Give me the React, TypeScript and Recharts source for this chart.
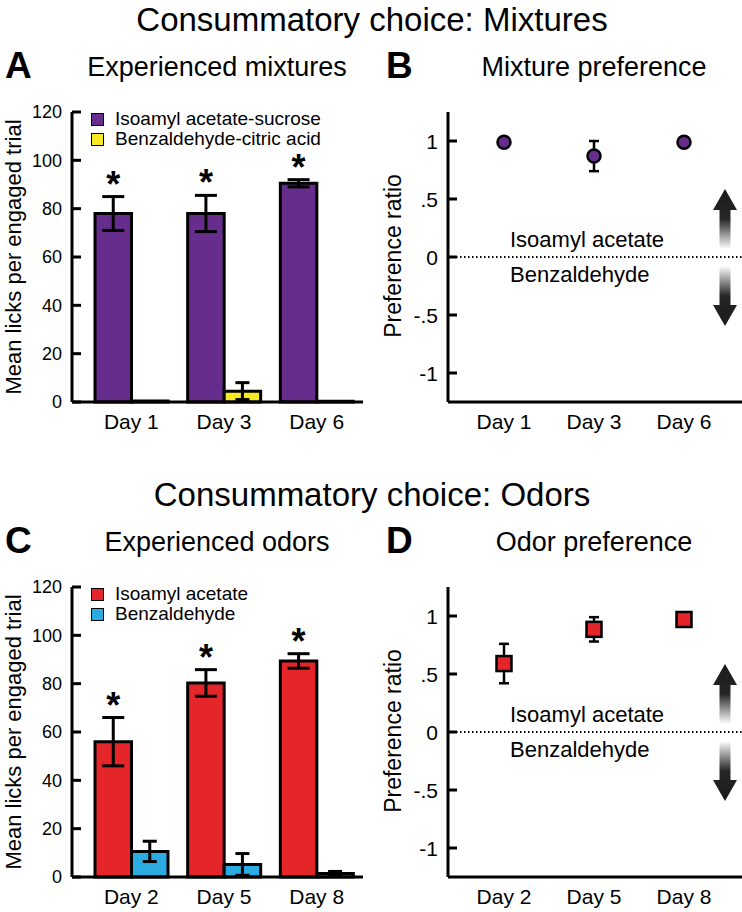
import React from "react";
import {
  Bar,
  BarChart,
  ErrorBar,
  LabelList,
  Legend,
  Line,
  LineChart,
  ReferenceLine,
  XAxis,
  YAxis,
} from "recharts";

const FONT = "'Liberation Sans', Arial, Helvetica, sans-serif";
const PURPLE = "#662d8c";
const YELLOW = "#f8e924";
const RED = "#e4262b";
const BLUE = "#2aace2";

// panel A / B: mixtures
const mixDays = ["Day 1", "Day 3", "Day 6"];
const mixNames = ["Isoamyl acetate-sucrose", "Benzaldehyde-citric acid"];
const mixSucrose = [78, 78, 90.5];
const mixSucroseErr = [7, 7.5, 1.5];
const mixCitric = [0.4, 4.5, 0.3];
const mixCitricErr = [0, 3.5, 0];
const mixPref = [0.99, 0.87, 0.99];
const mixPrefErr = [0.01, 0.13, 0.01];
const mixSig = ["*", "*", "*"];

// panel C / D: odors
const odorDays = ["Day 2", "Day 5", "Day 8"];
const odorNames = ["Isoamyl acetate", "Benzaldehyde"];
const odorIaa = [56, 80.3, 89.4];
const odorIaaErr = [10, 5.5, 3];
const odorBzd = [10.6, 5.2, 1.5];
const odorBzdErr = [4.2, 4.5, 0.8];
const odorPref = [0.59, 0.885, 0.97];
const odorPrefErr = [0.17, 0.105, 0.02];
const odorSig = ["*", "*", "*"];

const lickTicks = [0, 20, 40, 60, 80, 100, 120];
const prefTicks = [-1, -0.5, 0, 0.5, 1];
const prefTickLabels = ["-1", "-.5", "0", ".5", "1"];

const PANEL_W = 371;
const PANEL_H = 450;
const PLOT_TOP = 112;
const PLOT_H = 290;

function YTick(props: any) {
  const { x, y, payload, labels, ticks, size } = props;
  const label = labels ? labels[ticks.indexOf(payload.value)] : String(payload.value);
  return (
    <g>
      <line x1={x + 10} x2={x + 19} y1={y} y2={y} stroke="#000" strokeWidth={3} />
      <text x={x} y={y} dy="0.36em" textAnchor="end" fontSize={size} fontFamily={FONT} fill="#000">
        {label}
      </text>
    </g>
  );
}

function XTick(props: any) {
  const { x, y, payload } = props;
  return (
    <text x={x} y={y + 27} textAnchor="middle" fontSize={21} fontFamily={FONT} fill="#000">
      {payload.value}
    </text>
  );
}

function SwatchLegend({ payload, names, colors }: { payload?: any[]; names: string[]; colors: string[] }) {
  const items = [...(payload ?? [])].sort((p, q) => names.indexOf(p.value) - names.indexOf(q.value));
  return (
    <div style={{ fontFamily: FONT, fontSize: 19, color: "#000" }}>
      {items.map((p) => (
        <div key={p.value} style={{ display: "flex", alignItems: "center", height: 20 }}>
          <span
            style={{
              display: "inline-block",
              width: 11,
              height: 11,
              background: colors[names.indexOf(p.value)],
              border: "1.5px solid #000",
              marginRight: 11,
            }}
          />
          <span>{p.value}</span>
        </div>
      ))}
    </div>
  );
}

const starLabel = (errs: number[], sig: string[]) => (props: any) => {
  const vb = props.viewBox ?? props;
  const { x, y, width, height } = vb;
  const i = props.index ?? 0;
  const perUnit = height / props.value;
  const top = y - errs[i] * perUnit;
  return (
    <text
      x={x + width / 2}
      y={top}
      textAnchor="middle"
      fontSize={36}
      fontWeight="bold"
      fontFamily={FONT}
      fill="#000"
    >
      {sig[i]}
    </text>
  );
};

function LickPanel({
  days,
  a,
  aErr,
  b,
  bErr,
  sig,
  names,
  colors,
}: {
  days: string[];
  a: number[];
  aErr: number[];
  b: number[];
  bErr: number[];
  sig: string[];
  names: string[];
  colors: string[];
}) {
  const rows = days.map((d, i) => ({ day: d, a: a[i], aErr: aErr[i], b: b[i], bErr: bErr[i] }));
  return (
    <BarChart
      width={PANEL_W}
      height={PANEL_H}
      data={rows}
      margin={{ top: PLOT_TOP, right: 8, bottom: 0, left: 0 }}
      barGap={0}
      barSize={36.5}
    >
      <XAxis
        dataKey="day"
        height={48}
        padding={{ left: 13, right: 0 }}
        axisLine={{ stroke: "#000", strokeWidth: 3 }}
        tickLine={false}
        tickSize={0}
        tickMargin={0}
        interval={0}
        tick={(p: any) => <XTick {...p} />}
      />
      <YAxis
        type="number"
        width={72}
        domain={[0, 120]}
        ticks={lickTicks}
        axisLine={{ stroke: "#000", strokeWidth: 3 }}
        tickLine={false}
        tickSize={0}
        tickMargin={10}
        tick={(p: any) => <YTick {...p} size={18} />}
      />
      <Legend
        layout="vertical"
        align="center"
        verticalAlign="middle"
        wrapperStyle={{ left: 91, top: 109, width: 260 }}
        content={(p: any) => <SwatchLegend payload={p.payload} names={names} colors={colors} />}
      />
      <Bar dataKey="a" name={names[0]} fill={colors[0]} stroke="#000" strokeWidth={3} isAnimationActive={false}>
        <ErrorBar dataKey="aErr" width={11} stroke="#000" strokeWidth={3} />
        <LabelList dataKey="a" content={starLabel(aErr, sig)} />
      </Bar>
      <Bar dataKey="b" name={names[1]} fill={colors[1]} stroke="#000" strokeWidth={3} isAnimationActive={false}>
        <ErrorBar dataKey="bErr" width={7} stroke="#000" strokeWidth={3} />
      </Bar>
    </BarChart>
  );
}

function ZeroLabels(props: any) {
  const { x, y } = props.viewBox;
  return (
    <g fontFamily={FONT} fontSize={22} fill="#000">
      <text x={x + 62} y={y - 10}>Isoamyl acetate</text>
      <text x={x + 62} y={y + 25}>Benzaldehyde</text>
    </g>
  );
}

function PrefPanel({
  days,
  pref,
  err,
  color,
  square,
}: {
  days: string[];
  pref: number[];
  err: number[];
  color: string;
  square?: boolean;
}) {
  const rows = days.map((d, i) => ({ day: d, v: pref[i], err: err[i] }));
  const dot = square
    ? (p: any) => (
        <rect
          key={p.index}
          x={p.cx - 7.5}
          y={p.cy - 7.5}
          width={15}
          height={15}
          fill={color}
          stroke="#000"
          strokeWidth={2.5}
        />
      )
    : { r: 6.5, fill: color, stroke: "#000", strokeWidth: 2.5 };
  return (
    <LineChart width={PANEL_W} height={PANEL_H} data={rows} margin={{ top: PLOT_TOP, right: 0, bottom: 0, left: 0 }}>
      <XAxis
        dataKey="day"
        height={48}
        padding={{ left: 56, right: 58 }}
        axisLine={{ stroke: "#000", strokeWidth: 3 }}
        tickLine={false}
        tickSize={0}
        tickMargin={0}
        interval={0}
        tick={(p: any) => <XTick {...p} />}
      />
      <YAxis
        type="number"
        width={77}
        domain={[-1.25, 1.25]}
        ticks={prefTicks}
        axisLine={{ stroke: "#000", strokeWidth: 3 }}
        tickLine={false}
        tickSize={0}
        tickMargin={10}
        tick={(p: any) => <YTick {...p} size={21} labels={prefTickLabels} ticks={prefTicks} />}
      />
      <ReferenceLine
        y={0}
        stroke="#000"
        strokeWidth={2}
        strokeDasharray="1.5 2.5"
        label={(p: any) => <ZeroLabels {...p} />}
      />
      <Line dataKey="v" stroke="none" dot={dot as any} activeDot={false} isAnimationActive={false}>
        <ErrorBar dataKey="err" width={5} stroke="#000" strokeWidth={2.5} />
      </Line>
    </LineChart>
  );
}

function Arrows({ cx, zeroY }: { cx: number; zeroY: number }) {
  const up = [
    [cx, zeroY - 68],
    [cx + 12, zeroY - 47],
    [cx + 5.5, zeroY - 47],
    [cx + 5.5, zeroY - 8],
    [cx - 5.5, zeroY - 8],
    [cx - 5.5, zeroY - 47],
    [cx - 12, zeroY - 47],
  ];
  const down = up.map(([x, y]) => [x, 2 * zeroY - y + 1]);
  return (
    <g>
      <polygon points={up.map((p) => p.join(",")).join(" ")} fill="url(#gradUp)" />
      <polygon points={down.map((p) => p.join(",")).join(" ")} fill="url(#gradDown)" />
    </g>
  );
}

function Overlay() {
  const yMid = PLOT_TOP + PLOT_H / 2;
  const second = 475;
  return (
    <svg width={742} height={912} style={{ position: "absolute", left: 0, top: 0 }} fontFamily={FONT}>
      <defs>
        <linearGradient id="gradUp" x1="0" y1="0" x2="0" y2="1">
          <stop offset="0" stopColor="#1a1a1a" />
          <stop offset="0.5" stopColor="#262626" />
          <stop offset="1" stopColor="#ffffff" />
        </linearGradient>
        <linearGradient id="gradDown" x1="0" y1="1" x2="0" y2="0">
          <stop offset="0" stopColor="#1a1a1a" />
          <stop offset="0.5" stopColor="#262626" />
          <stop offset="1" stopColor="#ffffff" />
        </linearGradient>
      </defs>
      {[0, second].map((t, k) => (
        <g key={k} transform={`translate(0, ${t})`}>
          <text x={372} y={31} textAnchor="middle" fontSize={33}>
            {k === 0 ? "Consummatory choice: Mixtures" : "Consummatory choice: Odors"}
          </text>
          <text x={5} y={78} fontSize={37} fontWeight="bold">
            {k === 0 ? "A" : "C"}
          </text>
          <text x={386} y={78} fontSize={37} fontWeight="bold">
            {k === 0 ? "B" : "D"}
          </text>
          <text x={217} y={76} textAnchor="middle" fontSize={27}>
            {k === 0 ? "Experienced mixtures" : "Experienced odors"}
          </text>
          <text x={594} y={76} textAnchor="middle" fontSize={27}>
            {k === 0 ? "Mixture preference" : "Odor preference"}
          </text>
          <text transform={`translate(21, ${yMid}) rotate(-90)`} textAnchor="middle" fontSize={22}>
            Mean licks per engaged trial
          </text>
          <text transform={`translate(401, ${yMid - 1}) rotate(-90)`} textAnchor="middle" fontSize={23}>
            Preference ratio
          </text>
          <Arrows cx={725} zeroY={yMid} />
        </g>
      ))}
    </svg>
  );
}

export default function App() {
  return (
    <div style={{ position: "absolute", left: 0, top: 0, width: 742, height: 912, background: "#fff" }}>
      <Overlay />
      <div style={{ position: "absolute", left: 0, top: 0 }}>
        <LickPanel
          days={mixDays}
          a={mixSucrose}
          aErr={mixSucroseErr}
          b={mixCitric}
          bErr={mixCitricErr}
          sig={mixSig}
          names={mixNames}
          colors={[PURPLE, YELLOW]}
        />
      </div>
      <div style={{ position: "absolute", left: 371, top: 0 }}>
        <PrefPanel days={mixDays} pref={mixPref} err={mixPrefErr} color={PURPLE} />
      </div>
      <div style={{ position: "absolute", left: 0, top: 475 }}>
        <LickPanel
          days={odorDays}
          a={odorIaa}
          aErr={odorIaaErr}
          b={odorBzd}
          bErr={odorBzdErr}
          sig={odorSig}
          names={odorNames}
          colors={[RED, BLUE]}
        />
      </div>
      <div style={{ position: "absolute", left: 371, top: 475 }}>
        <PrefPanel days={odorDays} pref={odorPref} err={odorPrefErr} color={RED} square />
      </div>
    </div>
  );
}
